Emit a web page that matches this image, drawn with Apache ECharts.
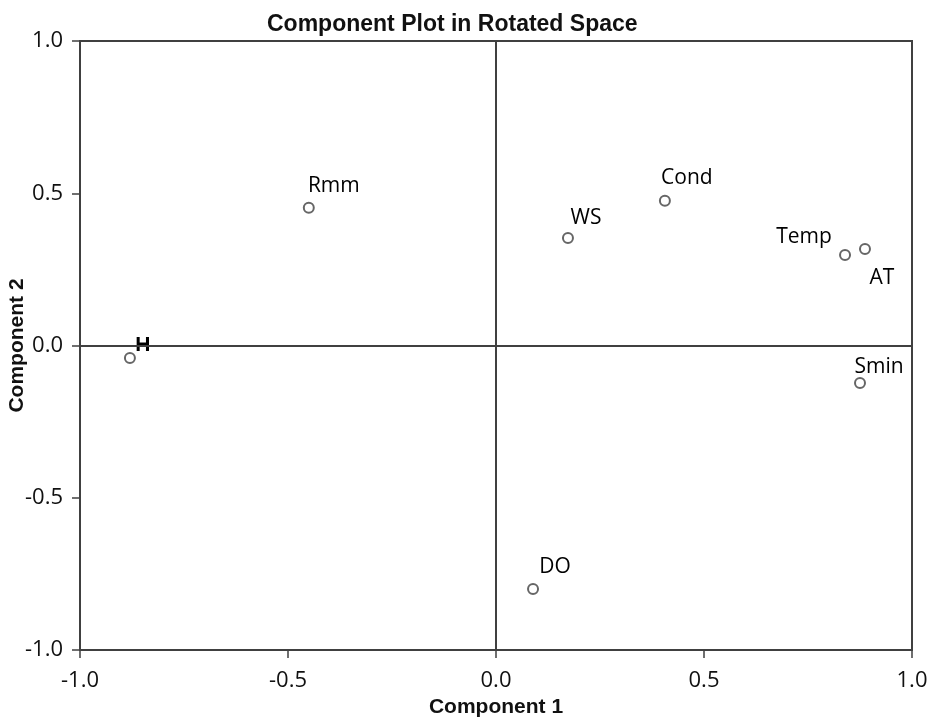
<!DOCTYPE html>
<html>
<head>
<meta charset="utf-8">
<script src="https://cdn.jsdelivr.net/npm/echarts@6/dist/echarts.min.js"></script>
<style>
  html, body { margin: 0; padding: 0; background: #fff; }
  #chart { width: 937px; height: 718px; }
</style>
</head>
<body>
<div id="chart"></div>
<script>
// Rotated component loadings
const variables = ['Rmm', 'H', 'WS', 'Cond', 'Temp', 'AT', 'Smin', 'DO'];
const component1 = [-0.45, -0.88, 0.173, 0.406, 0.839, 0.887, 0.875, 0.089];
const component2 = [0.452, -0.041, 0.353, 0.475, 0.297, 0.317, -0.123, -0.800];
const axisTicks = [-1.0, -0.5, 0.0, 0.5, 1.0];

// Label placement for each variable name (pixel offsets from the point)
const labelOffsets = {
  Rmm: [25, -22], H: [13, -13], WS: [18, -20], Cond: [22, -23],
  Temp: [-41, -18], AT: [17, 29], Smin: [19, -16], DO: [22, -22]
};

const textFont = '"Open Sans", "Noto Sans", sans-serif';
const boldFont = '"Liberation Sans", Arial, sans-serif';

const points = variables.map((name, i) => ({
  name: name,
  value: [component1[i], component2[i]],
  label: {
    show: true,
    formatter: name,
    position: 'inside',
    offset: labelOffsets[name],
    fontFamily: name === 'H' ? boldFont : textFont,
    fontWeight: name === 'H' ? 'bold' : 'normal',
    fontSize: 21,
    color: '#000',
    textBorderWidth: 0,
    opacity: 1
  }
}));

const chart = echarts.init(document.getElementById('chart'), null, { renderer: 'canvas' });

const axisCommon = {
  min: -1, max: 1, interval: 0.5,
  axisLine: { show: true, onZero: false, lineStyle: { color: '#404040', width: 2 } },
  axisTick: { show: true, length: 8, lineStyle: { color: '#404040', width: 1.5 } },
  splitLine: { show: false },
  axisLabel: {
    formatter: v => (axisTicks.indexOf(v) >= 0 ? v.toFixed(1) : ''),
    fontFamily: textFont, fontSize: 22, color: '#111'
  },
  nameLocation: 'middle',
  nameMoveOverlap: false,
  nameTextStyle: { fontFamily: boldFont, fontWeight: 'bold', fontSize: 21, color: '#111' }
};

chart.setOption({
  animation: false,
  backgroundColor: '#fff',
  title: {
    text: 'Component Plot in Rotated Space',
    left: 262, top: 8,
    textStyle: { fontFamily: boldFont, fontWeight: 'bold', fontSize: 23, color: '#111' }
  },
  grid: {
    left: 80, right: 25, top: 41, bottom: 68,
    containLabel: false, outerBoundsMode: 'none',
    show: true, borderColor: '#404040', borderWidth: 2, backgroundColor: 'transparent'
  },
  xAxis: Object.assign({}, axisCommon, {
    type: 'value', name: 'Component 1', nameGap: 47,
    axisLabel: Object.assign({}, axisCommon.axisLabel, { margin: 20 })
  }),
  yAxis: Object.assign({}, axisCommon, {
    type: 'value', name: 'Component 2', nameGap: 52,
    axisLabel: Object.assign({}, axisCommon.axisLabel, { margin: 17 })
  }),
  series: [{
    type: 'scatter',
    data: points,
    symbol: 'circle',
    symbolSize: 10,
    itemStyle: { color: '#fff', borderColor: '#666', borderWidth: 2, opacity: 1 },
    markLine: {
      silent: true,
      symbol: 'none',
      label: { show: false },
      lineStyle: { color: '#404040', width: 2, type: 'solid' },
      data: [{ xAxis: 0 }, { yAxis: 0 }]
    }
  }]
});
</script>
</body>
</html>
